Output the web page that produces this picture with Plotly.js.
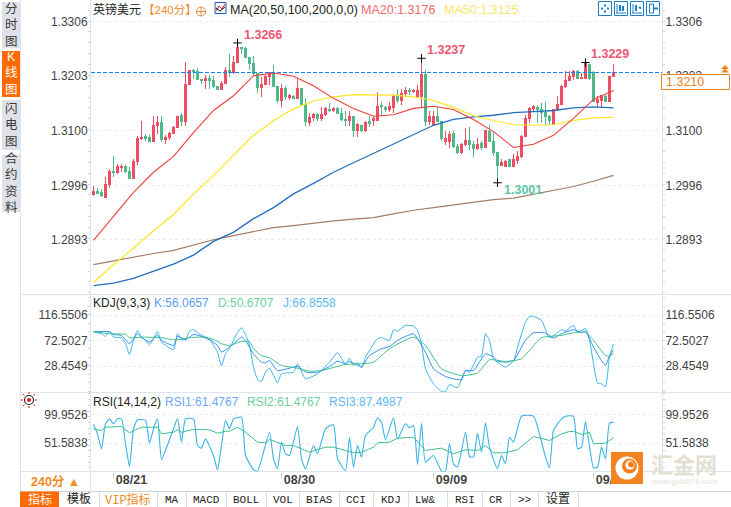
<!DOCTYPE html>
<html><head><meta charset="utf-8">
<script src="https://cdn.plot.ly/plotly-3.0.1.min.js"></script>
<style>html,body{margin:0;padding:0;background:#fff}#c{width:731px;height:507px}
.boxlayer path,.boxes path{shape-rendering:crispEdges}
</style>
</head><body><div id="c"></div>
<script>
// ---- candle data (one per 240-minute bar) ----
const open = [1.2979,1.2985,1.2983,1.2974,1.2998,1.3022,1.3020,1.3030,1.3032,1.3022,
1.3009,1.3041,1.3085,1.3089,1.3087,1.3079,1.3109,1.3115,1.3083,1.3087,
1.3094,1.3106,1.3128,1.3117,1.3187,1.3214,1.3212,1.3197,1.3195,1.3198,
1.3195,1.3183,1.3178,1.3189,1.3214,1.3210,1.3229,1.3257,1.3255,1.3238,
1.3227,1.3208,1.3181,1.3187,1.3202,1.3209,1.3183,1.3157,1.3180,1.3163,
1.3164,1.3161,1.3180,1.3150,1.3115,1.3125,1.3130,1.3122,1.3130,1.3140,
1.3138,1.3142,1.3132,1.3121,1.3119,1.3127,1.3100,1.3110,1.3100,1.3117,
1.3119,1.3120,1.3147,1.3144,1.3140,1.3144,1.3164,1.3157,1.3170,1.3176,
1.3174,1.3164,1.3164,1.3206,1.3117,1.3110,1.3127,1.3117,1.3079,1.3079,
1.3094,1.3070,1.3058,1.3074,1.3081,1.3074,1.3066,1.3075,1.3068,1.3098,
1.3079,1.3058,1.3034,1.3032,1.3045,1.3032,1.3043,1.3051,1.3089,1.3123,
1.3142,1.3143,1.3140,1.3134,1.3126,1.3111,1.3140,1.3149,1.3183,1.3195,
1.3202,1.3212,1.3198,1.3198,1.3225,1.3210,1.3153,1.3157,1.3164,1.3155,
1.3202];
const high = [1.2994,1.2992,1.2990,1.3012,1.3028,1.3051,1.3037,1.3037,1.3034,1.3030,
1.3047,1.3089,1.3119,1.3094,1.3091,1.3127,1.3127,1.3127,1.3092,1.3098,
1.3108,1.3128,1.3134,1.3229,1.3215,1.3217,1.3219,1.3197,1.3206,1.3206,
1.3204,1.3185,1.3193,1.3221,1.3246,1.3242,1.3266,1.3259,1.3259,1.3240,
1.3242,1.3208,1.3202,1.3206,1.3210,1.3225,1.3183,1.3188,1.3185,1.3169,
1.3168,1.3198,1.3180,1.3162,1.3134,1.3134,1.3134,1.3144,1.3145,1.3153,
1.3144,1.3145,1.3142,1.3138,1.3138,1.3127,1.3115,1.3111,1.3119,1.3127,
1.3127,1.3174,1.3155,1.3147,1.3155,1.3169,1.3178,1.3178,1.3183,1.3180,
1.3178,1.3187,1.3237,1.3215,1.3138,1.3138,1.3144,1.3119,1.3100,1.3100,
1.3100,1.3075,1.3077,1.3104,1.3106,1.3081,1.3085,1.3081,1.3100,1.3110,
1.3098,1.3058,1.3047,1.3045,1.3047,1.3055,1.3062,1.3092,1.3130,1.3145,
1.3149,1.3149,1.3153,1.3155,1.3130,1.3140,1.3166,1.3187,1.3212,1.3212,
1.3214,1.3214,1.3210,1.3229,1.3227,1.3212,1.3166,1.3168,1.3168,1.3204,
1.3227];
const low = [1.2976,1.2980,1.2975,1.2973,1.2991,1.3012,1.3017,1.3022,1.3020,1.3009,
1.3009,1.3034,1.3083,1.3081,1.3079,1.3079,1.3094,1.3079,1.3075,1.3083,
1.3094,1.3106,1.3108,1.3108,1.3187,1.3198,1.3197,1.3189,1.3178,1.3178,
1.3181,1.3178,1.3178,1.3189,1.3202,1.3207,1.3229,1.3245,1.3238,1.3215,
1.3206,1.3172,1.3164,1.3187,1.3187,1.3183,1.3153,1.3144,1.3157,1.3158,
1.3159,1.3159,1.3149,1.3108,1.3109,1.3119,1.3119,1.3119,1.3128,1.3136,
1.3136,1.3132,1.3119,1.3108,1.3108,1.3087,1.3087,1.3098,1.3098,1.3106,
1.3108,1.3119,1.3127,1.3136,1.3135,1.3134,1.3153,1.3149,1.3164,1.3168,
1.3172,1.3162,1.3145,1.3108,1.3111,1.3110,1.3117,1.3081,1.3072,1.3066,
1.3066,1.3056,1.3056,1.3070,1.3064,1.3049,1.3064,1.3064,1.3068,1.3079,
1.3051,1.3001,1.3034,1.3032,1.3031,1.3031,1.3037,1.3048,1.3089,1.3115,
1.3136,1.3115,1.3115,1.3110,1.3111,1.3111,1.3138,1.3149,1.3181,1.3193,
1.3195,1.3197,1.3197,1.3197,1.3195,1.3155,1.3145,1.3145,1.3155,1.3155,
1.3202];
const close = [1.2985,1.2981,1.2976,1.2998,1.3022,1.3020,1.3032,1.3032,1.3022,1.3009,
1.3041,1.3085,1.3087,1.3085,1.3079,1.3109,1.3115,1.3083,1.3087,1.3094,
1.3106,1.3127,1.3117,1.3187,1.3214,1.3212,1.3197,1.3195,1.3198,1.3195,
1.3183,1.3178,1.3189,1.3214,1.3210,1.3229,1.3257,1.3255,1.3238,1.3227,
1.3208,1.3181,1.3187,1.3202,1.3210,1.3183,1.3157,1.3180,1.3164,1.3166,
1.3161,1.3180,1.3150,1.3117,1.3125,1.3130,1.3122,1.3130,1.3141,1.3138,
1.3142,1.3132,1.3121,1.3120,1.3127,1.3100,1.3111,1.3100,1.3115,1.3113,
1.3122,1.3145,1.3145,1.3140,1.3145,1.3164,1.3157,1.3170,1.3176,1.3174,
1.3176,1.3176,1.3206,1.3117,1.3127,1.3127,1.3117,1.3085,1.3085,1.3092,
1.3070,1.3058,1.3074,1.3081,1.3074,1.3066,1.3074,1.3068,1.3100,1.3079,
1.3058,1.3034,1.3039,1.3041,1.3032,1.3045,1.3051,1.3089,1.3123,1.3142,
1.3145,1.3140,1.3134,1.3126,1.3119,1.3140,1.3149,1.3183,1.3195,1.3202,
1.3212,1.3198,1.3200,1.3227,1.3198,1.3155,1.3159,1.3166,1.3155,1.3202,
1.3210];

// ---- moving averages, read every fifth bar ----
const maBars = [0,5,10,15,20,25,30,35,40,45,50,55,60,65,70,75,80,85,90,95,100,105,110,115,120,125,130];
const ma20 = [1.2892,1.2937,1.2983,1.3021,1.3051,1.3096,1.3138,1.3166,1.3204,1.3209,1.3203,1.3185,1.3161,1.3142,1.3127,1.3130,1.3142,1.3146,1.3140,1.3121,1.3098,1.3068,1.3074,1.3091,1.3123,1.3159,1.3176];
const ma50 = [1.2812,1.2846,1.2877,1.2910,1.2941,1.2980,1.3015,1.3053,1.3091,1.3119,1.3141,1.3156,1.3164,1.3168,1.3168,1.3167,1.3164,1.3157,1.3144,1.3128,1.3119,1.3111,1.3110,1.3111,1.3119,1.3124,1.3125];
const ma100 = [1.2806,1.2811,1.2820,1.2834,1.2847,1.2864,1.2890,1.2907,1.2933,1.2954,1.2980,1.3000,1.3021,1.3039,1.3057,1.3075,1.3092,1.3110,1.3121,1.3126,1.3129,1.3134,1.3136,1.3138,1.3143,1.3145,1.3143];
const ma200 = [1.2846,1.2853,1.2861,1.2867,1.2873,1.2883,1.2893,1.2901,1.2909,1.2916,1.2920,1.2925,1.2929,1.2932,1.2935,1.2942,1.2949,1.2954,1.2959,1.2964,1.2969,1.2972,1.2979,1.2986,1.2994,1.3004,1.3015];

// ---- KDJ, read at the turning points ----
const jBars = [0,2,3,4,5,7,8,9,10,11,12,13,14,15,16,17,20,21,22,23,24,25,27,29,30,31,32,33,34,35,36,37,38,39,40,41,42,43,44,46,47,50,51,53,56,59,61,63,64,65,66,67,68,71,72,74,75,76,78,80,81,82,83,85,87,88,89,91,93,94,96,97,98,99,100,101,103,105,106,108,109,110,112,114,117,118,120,121,123,124,125,126,127,128,129,130];
const jVals = [88,84.6,79.9,89,78.7,77.7,67.3,48.8,73,90.3,78.7,73,65.6,76,88,70.1,57,84.6,76,74.2,89,91.5,81.7,76,64.4,52.8,29.3,50,58.7,73,87.3,94.9,83.4,64.4,26.9,5.7,2.2,18.3,25.2,0,15.5,18.3,32.8,6.9,15.5,35.5,51.8,31.6,42.4,29.8,34.5,25.2,44.2,76,77.7,73,91.5,89,99,97.7,90.3,67.3,24.1,-1.8,-15.1,-15.1,-3,-8.7,21.2,18.3,44.2,45.9,84.6,73,41.4,35.5,26.9,37.3,61.4,104.6,114.5,114.5,107.6,77.7,91.5,89,99,87.3,93.2,73,32.8,-0.7,-1.8,-6.4,44.2,66.86];
const kBars = [0,4,5,7,9,10,11,12,14,16,17,20,21,23,25,27,29,31,32,34,36,37,38,40,42,43,44,46,51,53,56,59,61,63,64,67,69,72,74,76,78,80,81,83,85,88,92,93,95,98,100,101,103,105,108,110,113,115,117,120,122,123,125,127,128,129,130];
const kVals = [88,88,83.4,81.7,67.3,76,84.6,78.7,70.1,81.7,73,64.4,79.9,74.2,83.4,79.9,74.2,64.4,52.8,61.4,73,78.7,73,50,35.5,34.5,38.5,21,28,18.3,18.3,28,37.3,32.8,36.7,28,47,58.7,62.7,73,79.9,84.6,76,52.8,24.1,10.8,5.1,21.2,21.2,50,44.2,37.3,35.5,38.5,73,86.3,85.7,77,84.6,91.5,86.3,89,61.4,38.5,29.8,47,56.07];
const dBars = [0,4,8,9,13,17,20,22,24,27,30,32,34,37,39,40,42,44,47,51,54,57,63,67,70,74,80,83,87,92,96,99,103,107,112,117,120,123,125,128,129,130];
const dVals = [88,84.6,83.4,77.7,78.7,77.7,74.2,74.8,77.7,78.7,74.8,67.3,64.4,71.3,71.3,58.7,47,43,29.8,25.2,20,21,31.6,32.8,35.5,58.7,78.7,64.4,24.1,12.3,16.7,39.7,36.7,41.4,77.7,81.7,86.3,87.3,73,47,45.9,50.67];

// ---- RSI, read at the turning points ----
const rsi3Bars = [0,1,2,3,4,5,6,7,8,9,10,11,13,14,15,16,17,18,20,21,22,23,25,26,27,28,30,31,32,33,34,35,37,38,40,41,44,45,46,47,48,49,51,52,53,55,56,58,60,61,63,64,65,66,67,68,70,71,72,73,75,76,78,79,80,81,82,83,85,87,88,89,90,91,93,94,95,96,97,98,99,101,102,103,104,105,107,110,113,114,115,117,118,120,121,122,123,125,126,127,128,129,130];
const rsi3Vals = [83.4,67.5,42,84.6,93,84.6,93,93,50.5,11.9,76.1,91.4,90.3,51.6,76.1,93,23.3,39.2,76.1,93,53.3,93,93,47.7,43.1,59,30.6,6.3,47.7,90.3,76.1,93,95.8,30.6,6.3,3.9,70.3,25,8,53.3,33.5,30.6,80,25,8,47.7,33.5,76.1,82.9,25,5.1,61.8,10.7,47.7,27.8,64.7,78.8,94.9,87.3,57.4,94.9,59,84.6,77.8,81.8,15.3,85.6,19.2,30.6,3.9,3.9,50.5,16.5,10.7,70.3,28.9,27.8,68.6,36.3,86.3,44.8,8,30.6,16.5,61.8,53.3,97.5,97.5,27.8,9.7,73.2,93,97.5,97.5,42,44.8,88.5,9.7,10.7,44.8,25,85.6,87.5];
const rsi2Bars = [0,2,3,7,9,12,16,17,20,21,22,25,29,31,33,34,36,38,41,43,44,48,50,54,58,60,63,65,67,70,71,74,76,80,83,87,90,93,96,98,100,103,106,110,114,117,119,120,122,124,125,128,130];
const rsi2Vals = [76.1,73.2,78.8,80,69.3,78.8,78.8,67.5,70.3,74.4,70.3,75,74.4,68.6,72,72,78.8,70.3,53.3,52.3,58,47.7,47.7,36.3,44.8,44.8,39.2,35.2,36.3,44.8,52.3,53.3,60,61.8,39.2,43.1,33.5,40.4,39.2,47.7,35.2,35.2,40.4,62.9,56.2,67.5,71.5,71.5,66.5,70.3,50.5,51.6,60.8];

// ---- labels and ticks ----
const priceTicks = [1.3306,1.3203,1.3100,1.2996,1.2893];
const kdjTicks = [116.5506,72.5027,28.4549];
const rsiTicks = [99.9526,51.5838];
const dateBars = [5,47,85,125];
const dateLabels = ['08/21','08/30','09/09','09/17'];
const lastPrice = 1.3210;
const extremeBars = [36,82,123,101];
const extremeVals = [1.3266,1.3237,1.3229,1.3001];
const tabs = ['MA','MACD','BOLL','VOL','BIAS','CCI','KDJ','LW&','RSI','CR','>>','设置'];

const W=731,H=507;
const X=p=>p/W, Y=p=>1-p/H;
const bars = open.map((_,i)=>i);
const sans='"Liberation Sans",Arial,sans-serif', cjk='"Liberation Sans","Noto Sans CJK SC",sans-serif', mono='"Liberation Mono","Noto Sans CJK SC",monospace';
const rangeMain=[1.27893,1.33474], rangeKdj=[-15.94,152.26], rangeRsi=[3.35,138.75];
const gridC='#e9ecef', axisC='#dde4ea', tickC='#3f3f46';

const line=(x,y,color,name,xa,ya,w,smooth)=>({type:'scatter',mode:'lines',x,y,xaxis:xa||'x',yaxis:ya||'y',name,
  line:smooth?{color,width:w||1,shape:'spline',smoothing:smooth}:{color,width:w||1,shape:'linear'},hoverinfo:'skip'});

const traces=[
 {type:'candlestick',x:bars,open,high,low,close,xaxis:'x',yaxis:'y',whiskerwidth:0,hoverinfo:'skip',
  increasing:{line:{color:'#ef4d62',width:1},fillcolor:'#ef4d62'},
  decreasing:{line:{color:'#4fb98a',width:1},fillcolor:'#4fb98a'}},
 line(maBars,ma200,'#a57c68','MA200',null,null,1.2),
 line(maBars,ma100,'#2270bf','MA100',null,null,1.3),
 line(maBars,ma50,'#ffe61e','MA50',null,null,1.2),
 line(maBars,ma20,'#f23f3a','MA20',null,null,1.1),
 {type:'scatter',mode:'markers',x:extremeBars,y:extremeVals,xaxis:'x',yaxis:'y',hoverinfo:'skip',
  marker:{symbol:'cross-thin',size:6,color:'#000',line:{color:'#000',width:1}}},
 line(jBars,jVals,'#38b3e8','J','x','y2',1,0.5),
 line(kBars,kVals,'#2f8ff2','K','x','y2',1,0.5),
 line(dBars,dVals,'#3cc08c','D','x','y2',1,0.5),
 line(rsi3Bars,rsi3Vals,'#38b3e8','RSI3','x','y3',1.1,0.5),
 line(rsi2Bars,rsi2Vals,'#3cc08c','RSI2','x','y3',1),
 // carriers for the right-hand axes
 {type:'scatter',mode:'lines',x:[0],y:[lastPrice],xaxis:'x',yaxis:'y4',hoverinfo:'skip',line:{width:0}},
 {type:'scatter',mode:'lines',x:[0],y:[72.5],xaxis:'x',yaxis:'y5',hoverinfo:'skip',line:{width:0}},
 {type:'scatter',mode:'lines',x:[0],y:[51.6],xaxis:'x',yaxis:'y6',hoverinfo:'skip',line:{width:0}}
];

const shapes=[], annotations=[];
const rect=(x0,y0,x1,y1,fill,stroke,w,layer)=>shapes.push({type:'rect',xref:'paper',yref:'paper',x0:X(x0),x1:X(x1),y0:Y(y1),y1:Y(y0),fillcolor:fill||'rgba(0,0,0,0)',line:{color:stroke||'rgba(0,0,0,0)',width:stroke?(w||1):0},layer:layer||'above'});
const seg=(x0,y0,x1,y1,c,w,layer)=>shapes.push({type:'line',xref:'paper',yref:'paper',x0:X(x0),x1:X(x1),y0:Y(y0),y1:Y(y1),line:{color:c,width:w||1},layer:layer||'above'});
const circ=(cx,cy,r,fill,stroke,w)=>shapes.push({type:'circle',xref:'paper',yref:'paper',x0:X(cx-r),x1:X(cx+r),y0:Y(cy+r),y1:Y(cy-r),fillcolor:fill||'rgba(0,0,0,0)',line:{color:stroke||'rgba(0,0,0,0)',width:stroke?(w||1):0},layer:'above'});
const tri=(cx,top,c)=>shapes.push({type:'path',xref:'paper',yref:'paper',path:'M'+X(cx-4)+','+Y(top+4)+' L'+X(cx)+','+Y(top)+' L'+X(cx+4)+','+Y(top+4)+' Z',fillcolor:c,line:{width:0},layer:'above'});
const txt=(x,y,text,color,size,anchor,family)=>annotations.push({xref:'paper',yref:'paper',x:X(x),y:Y(y),text,showarrow:false,xanchor:anchor||'left',yanchor:'middle',align:'center',borderpad:0,
  font:{color,size:size||12,family:family||cjk}});

// panel frame
[294.5,392.5,471.5].forEach(y=>seg(20,y,731,y,axisC,1,'below'));
seg(20.5,0,20.5,491,axisC,1,'below');
seg(20,491.5,731,491.5,'#cfd6dc',1,'below');

// sidebar
[[2,48,'分<br>时<br>图'],[100,150,'闪<br>电<br>图'],[155,212,'合<br>约<br>资<br>料']].forEach(b=>{
  rect(2,b[0],20,b[1],'#dfe1e9');txt(11,(b[0]+b[1])/2,b[2],'#3a3a3a',12.5,'center');});
rect(2,51,20,97,'#ff6a00');txt(11,74,'K<br>线<br>图','#fff',12.5,'center');

// title row
txt(92,10,'英镑美元','#222',12);
txt(142,10,'【240分】','#f08a24',11.5);
circ(201,11.5,4.5,null,'#e88a4a',1);seg(196,11.5,206,11.5,'#e88a4a');seg(201,7,201,16,'#e88a4a');
rect(215,2.5,226,13.5,'#f4f6fb','#1a5fb0',1);seg(216,11,219,6,'#d22');seg(219,6,222,9,'#d22');seg(222,9,225,4,'#d22');seg(216,8,220,11,'#113');seg(220,11,225,7,'#113');
txt(229,10,'MA(20,50,100,200,0,0)','#222',12.5);
txt(360,10,'MA20:1.3176','#f86a66',12.5);
txt(443,10,'MA50:1.3125','#f6e76a',12.5);

// toolbar buttons
[598,614,630,646].forEach((x,i)=>{rect(x+.5,1.5,x+13.5,15.5,'#fff','#1b7fc8',1);});
[[605,8.5]].forEach(p=>{seg(p[0]-4,p[1],p[0]-2,p[1],'#1b7fc8',2);seg(p[0]+2,p[1],p[0]+4,p[1],'#1b7fc8',2);seg(p[0],p[1]-4,p[0],p[1]-2,'#1b7fc8',2);seg(p[0],p[1]+2,p[0],p[1]+4,'#1b7fc8',2);});
seg(617,4,617,13,'#1b7fc8');seg(616,13,626,13,'#1b7fc8');seg(620,5,620,11,'#1b7fc8',2);seg(623,6,623,11,'#1b7fc8',2);
seg(633,4,633,13,'#1b7fc8');seg(632,13,642,13,'#1b7fc8');seg(636,5,636,11,'#1b7fc8',2);seg(639,7,641,8.5,'#1b7fc8',2);
rect(649.5,4,653.5,13,'#fff','#1b7fc8',1);seg(654,8.5,658,8.5,'#1b7fc8',2);

// last price guide
shapes.push({type:'line',xref:'x',yref:'y',x0:-0.625,x1:142.125,y0:lastPrice,y1:lastPrice,line:{color:'#0f82f5',width:1.2,dash:'4px,2px'},layer:'above'});
rect(661.5,74.5,729.5,89.5,'#fff','#f08020',1);
txt(665,82,lastPrice.toFixed(4),'#f08020',12.5);
tri(725,65,'#f08020');tri(725,68.5,'#f08020');

// extreme labels
const exOff=[[243,35,'#ef5570'],[426,50,'#ef5570'],[590,54,'#ef5570'],[503,190,'#5cc4a4']];
extremeVals.forEach((v,i)=>txt(exOff[i][0],exOff[i][1],'<b>'+v.toFixed(4)+'</b>',exOff[i][2],12.5));

// indicator headers
txt(92,303,'KDJ(9,3,3)','#222',12);
txt(153,303,'K:56.0657','#5b9cf2',12);
txt(217,303,'D:50.6707','#6ccf9f',12);
txt(282,303,'J:66.8558','#5cb8ee',12);
txt(92,402,'RSI(14,14,2)','#222',12);
txt(164,402,'RSI1:61.4767','#6ea8f5',12);
txt(246,402,'RSI2:61.4767','#6ccf9f',12);
txt(328,402,'RSI3:87.4987','#5cb8ee',12);

// sun icon
circ(29,400,4.5,'#fff','#222',1.2);circ(29,400,2,'#e01818');
[[-8,0,-6,0],[6,0,8,0],[0,-8,0,-6],[0,6,0,8],[-6,-6,-4.5,-4.5],[4.5,-4.5,6,-6],[-6,6,-4.5,4.5],[4.5,4.5,6,6]].forEach(r=>seg(29+r[0],400+r[1],29+r[2],400+r[3],'#e01818',1));

// period selector
txt(30,481.5,'<b>240分 ▲</b>','#f08a24',12.5);
seg(90.5,471,90.5,491,axisC,1,'below');

// bottom tabs
rect(20,491.5,59,507,'#ff6a00');
txt(39.5,499.5,'指标','#fff',12,'center',mono);
txt(79,499.5,'模板','#222',12,'center',mono);
txt(128,499.5,'VIP指标','#f08a24',12,'center',mono);
const tabCx=[171.5,206,246,283,319,356,391,425,465,496,524,558];
tabs.forEach((t,i)=>txt(tabCx[i],499.5,t,'#222',t==='设置'?12:11,'center',mono));
[99,157,186,226,266,299,339,373,408,447,482,510,538,578].forEach(x=>seg(x+.5,492,x+.5,507,'#d8dde2',1,'below'));

// watermark
shapes.push({type:'rect',xref:'paper',yref:'paper',x0:X(611),x1:X(643),y0:Y(484),y1:Y(452),fillcolor:'#f58220',line:{width:0},layer:'above'});
circ(627,468,11.5,'#fff');circ(629.5,466,7.5,'#f58220');circ(630,465,4.5,'#fff');circ(631,464.5,3,'#f58220');
txt(650,465,'<b>汇金网</b>','#e3dfd2',22);
txt(650,481,'www.gold678.com','#e6e2d8',8);

const yAxis=(domain,range,ticks,minorDt,side,overlay)=>{
 const a={domain,range,tickmode:'array',tickvals:ticks,ticktext:ticks.map(v=>v.toFixed(4)),
  tickfont:{size:12,color:tickC,family:sans},ticks:'',zeroline:false,fixedrange:true,
  showgrid:!overlay,gridcolor:gridC,griddash:'dot',gridwidth:1,
  showline:true,linecolor:axisC,side:side||'left',anchor:'x',
  minor:{ticks:'outside',ticklen:2,tickcolor:'#cfd4da',dtick:minorDt,showgrid:false}};
 if(overlay){a.overlaying=overlay;a.side='right';}
 return a;
};
const d1=[1-294.5/H,1], d2=[1-392/H,1-294.5/H], d3=[1-471.5/H,1-392/H];

const layout={
 width:W,height:H,margin:{l:0,r:0,t:0,b:0,pad:0},paper_bgcolor:'#fff',plot_bgcolor:'#fff',
 showlegend:false,dragmode:false,hovermode:false,boxgap:0.5,boxgroupgap:0,
 font:{family:sans},
 xaxis:{domain:[91/W,662/W],range:[-0.625,142.125],anchor:'y3',rangeslider:{visible:false},
  tickmode:'array',tickvals:dateBars,ticktext:dateLabels.map(s=>'<b>'+s+'</b>'),
  tickfont:{size:12.5,color:'#444',family:sans},ticks:'outside',ticklen:5,tickcolor:'#c8ced4',tickwidth:1,
  ticklabelshift:18,ticklabelstandoff:-9,showgrid:false,zeroline:false,showline:false,fixedrange:true},
 yaxis:yAxis(d1,rangeMain,priceTicks,0.00206),
 yaxis2:yAxis(d2,rangeKdj,kdjTicks,14.7),
 yaxis3:yAxis(d3,rangeRsi,rsiTicks,9.67),
 yaxis4:yAxis(d1,rangeMain,priceTicks,0.00206,'right','y'),
 yaxis5:yAxis(d2,rangeKdj,kdjTicks,14.7,'right','y2'),
 yaxis6:yAxis(d3,rangeRsi,rsiTicks,9.67,'right','y3'),
 shapes,annotations
};
Plotly.newPlot('c',traces,layout,{displayModeBar:false,staticPlot:true});
</script></body></html>
